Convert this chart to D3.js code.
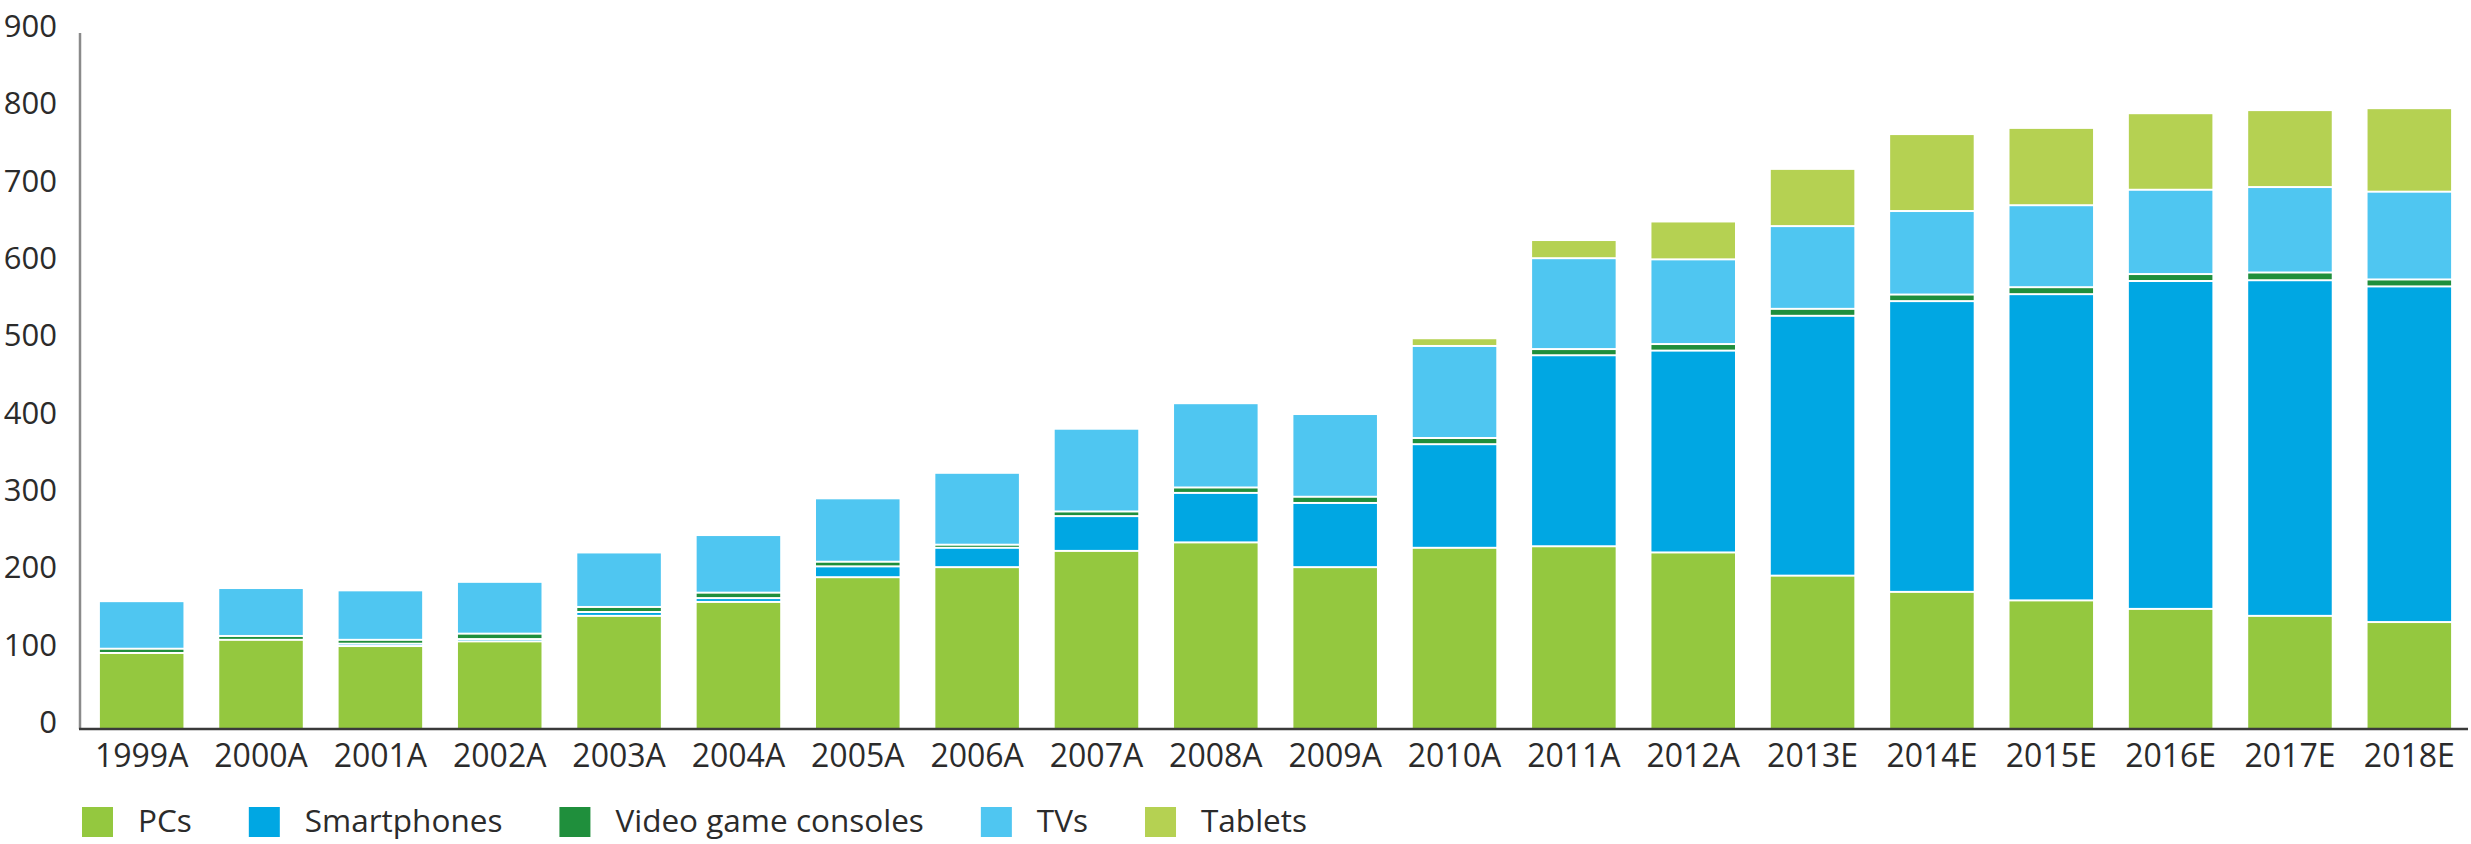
<!DOCTYPE html>
<html>
<head>
<meta charset="utf-8">
<script src="https://cdn.jsdelivr.net/npm/d3@7"></script>
<style>
  html, body { margin: 0; padding: 0; background: #fff; }
  svg { display: block; }
</style>
</head>
<body>
<div id="chart"></div>
<script>
var years = ["1999A","2000A","2001A","2002A","2003A","2004A","2005A","2006A","2007A","2008A",
	"2009A","2010A","2011A","2012A","2013E","2014E","2015E","2016E","2017E","2018E"];

var seriesNames = ["PCs", "Smartphones", "Video game consoles", "TVs", "Tablets"];

// values per year, stacked bottom to top
var pcs         = [97, 114, 106, 112, 145, 163, 195, 208, 229, 240, 208, 233, 235, 227, 197, 176, 165, 154, 145, 137];
var smartphones = [0, 0, 3, 3, 5, 5, 14, 25, 45, 64, 83, 134, 247, 261, 336, 376, 396, 424, 434, 434];
var consoles    = [5.5, 5, 5, 7, 6.5, 7, 6, 4, 6, 7, 8, 8, 8, 8.5, 9, 8.5, 9, 9, 10, 9];
var tvs         = [61.5, 62, 64, 67, 70.5, 74.5, 82, 93, 107, 109, 107, 119, 117.5, 109.5, 107, 108, 106, 109, 110.5, 113.5];
var tablets     = [0, 0, 0, 0, 0, 0, 0, 0, 0, 0, 0, 10, 23.5, 49, 74, 99.5, 100, 99, 99.5, 108];

var yTicks = [0, 100, 200, 300, 400, 500, 600, 700, 800, 900];

var colors = ["#94c83f", "#00a7e3", "#1f8f3c", "#4fc6f1", "#b5d152"];

var width = 2471, height = 844;
var gap = 2; // white separator between stacked segments

var rows = years.map(function(y, i) {
	return {year: y, "PCs": pcs[i], "Smartphones": smartphones[i],
		"Video game consoles": consoles[i], "TVs": tvs[i], "Tablets": tablets[i]};
});

var svg = d3.select("#chart").append("svg")
	.attr("width", width)
	.attr("height", height);

var x = d3.scaleBand()
	.domain(years)
	.range([82, 2469])
	.paddingInner(0.3)
	.paddingOuter(0.15);

var y = d3.scaleLinear()
	.domain([0, 900])
	.range([729, 33]);

var stacked = d3.stack().keys(seriesNames)(rows);

//bars
svg.selectAll("g.series")
	.data(stacked)
	.enter()
	.append("g")
		.attr("class", "series")
		.attr("fill", function(d, i) { return colors[i]; })
	.selectAll("rect")
	.data(function(d) { return d.map(function(p) { p.idx = d.index; return p; }); })
	.enter()
	.append("rect")
		.attr("x", function(d) { return x(d.data.year); })
		.attr("width", x.bandwidth())
		.attr("y", function(d) { return y(d[1]); })
		.attr("height", function(d) {
			var h = y(d[0]) - y(d[1]) - (d.idx > 0 ? gap : 0);
			return Math.max(0, h);
		});

//y axis line (left)
svg.append("line")
	.attr("x1", 80).attr("x2", 80)
	.attr("y1", y(900)).attr("y2", y(0))
	.style("stroke", "#8a8a8a")
	.style("stroke-width", 2.5);

//baseline
svg.append("line")
	.attr("x1", 79).attr("x2", 2468)
	.attr("y1", y(0)).attr("y2", y(0))
	.style("stroke", "#3a3a3a")
	.style("stroke-width", 2.5);

//y tick labels
svg.selectAll("text.ytick")
	.data(yTicks)
	.enter()
	.append("text")
		.attr("class", "ytick")
		.attr("x", 57)
		.attr("y", function(d) { return y(d) + 4; })
		.attr("text-anchor", "end")
		.attr("font-family", "'Open Sans', 'Noto Sans', sans-serif")
		.attr("font-size", "31px")
		.attr("fill", "#2b2b2b")
		.text(function(d) { return d; });

//x tick labels
svg.selectAll("text.xtick")
	.data(years)
	.enter()
	.append("text")
		.attr("class", "xtick")
		.attr("x", function(d) { return x(d) + x.bandwidth() / 2; })
		.attr("y", 767)
		.attr("text-anchor", "middle")
		.attr("font-family", "'Open Sans', 'Noto Sans', sans-serif")
		.attr("font-size", "32px")
		.attr("fill", "#2b2b2b")
		.text(function(d) { return d; });

//legend
var legend = svg.append("g").attr("class", "legend");
var lx = 82;
seriesNames.forEach(function(name, i) {
	legend.append("rect")
		.attr("x", lx).attr("y", 807)
		.attr("width", 31).attr("height", 30)
		.attr("fill", colors[i]);
	var t = legend.append("text")
		.attr("x", lx + 56)
		.attr("y", 832)
		.attr("font-family", "'Open Sans', 'Noto Sans', sans-serif")
		.attr("font-size", "31.5px")
		.attr("fill", "#2b2b2b")
		.text(name);
	lx = lx + 56 + t.node().getComputedTextLength() + 57;
});
</script>
</body>
</html>
